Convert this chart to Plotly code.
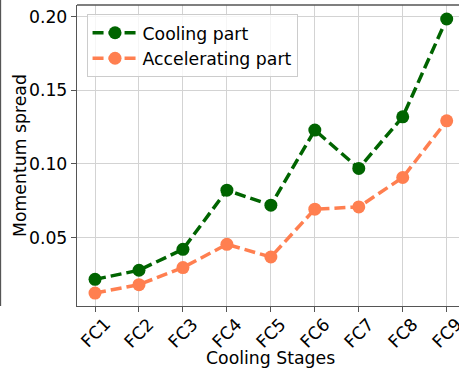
import plotly.graph_objects as go

stages = ["FC1", "FC2", "FC3", "FC4", "FC5", "FC6", "FC7", "FC8", "FC9"]
cooling = [0.0216, 0.0278, 0.042, 0.0822, 0.072, 0.123, 0.097, 0.132, 0.1985]
accel = [0.0123, 0.018, 0.0296, 0.0454, 0.0368, 0.0693, 0.0708, 0.0908, 0.1293]
yticks = [0.05, 0.10, 0.15, 0.20]

idx = list(range(len(stages)))
FS = 17.3
FONT = "DejaVu Sans"

fig = go.Figure()
fig.add_trace(go.Scatter(x=idx, y=cooling, name="Cooling part", mode="lines+markers",
                         line=dict(color="#006400", width=3.5, dash="11px,5px"),
                         marker=dict(color="#006400", size=13)))
fig.add_trace(go.Scatter(x=idx, y=accel, name="Accelerating part", mode="lines+markers",
                         line=dict(color="#FF7F50", width=3.5, dash="11px,5px"),
                         marker=dict(color="#FF7F50", size=13)))

axis_common = dict(showgrid=True, gridcolor="#d3d3d3", gridwidth=1,
                   showline=True, linecolor="#555555", linewidth=1.3,
                   ticks="outside", ticklen=5, tickcolor="#555555",
                   tickfont=dict(family=FONT, size=FS, color="black"),
                   zeroline=False)

fig.update_xaxes(tickmode="array", tickvals=idx, ticktext=[""] * len(stages),
                 range=[-0.41, 8.28], mirror=False, **axis_common)
fig.update_yaxes(tickmode="array", tickvals=yticks, ticktext=[f"{v:.2f}" for v in yticks],
                 range=[0.0035, 0.208], mirror=False, **axis_common)

plot_h = 371 - 5 - 65
for i, s in zip(idx, stages):
    fig.add_annotation(text=s, xref="x", yref="paper", x=i, y=(306 - 311) / plot_h,
                       xanchor="center", yanchor="top", textangle=-45, showarrow=False,
                       font=dict(family=FONT, size=FS, color="black"))

fig.add_annotation(text="Cooling Stages", xref="paper", yref="paper",
                   x=(270 - 77) / 382, y=(306 - 358) / plot_h, xanchor="center", yanchor="middle",
                   showarrow=False, font=dict(family=FONT, size=FS, color="black"))
fig.add_annotation(text="Momentum spread", xref="paper", yref="paper",
                   x=(19.5 - 77) / 382, y=0.5, xanchor="center", yanchor="middle", textangle=-90,
                   showarrow=False, font=dict(family=FONT, size=FS, color="black"))

fig.add_shape(type="line", xref="paper", yref="paper", x0=0, x1=1, y0=1, y1=1,
              line=dict(color="#555555", width=1.3))
fig.add_shape(type="line", xref="paper", yref="paper", x0=-76.5/382, x1=-76.5/382, y0=0, y1=1.02,
              line=dict(color="#555555", width=1.3))

fig.update_layout(
    width=459, height=371,
    margin=dict(l=77, r=0, t=5, b=65),
    plot_bgcolor="white", paper_bgcolor="white",
    font=dict(family=FONT, size=FS, color="black"),
    legend=dict(x=0.025, y=0.97, xanchor="left", yanchor="top",
                bgcolor="rgba(255,255,255,0.8)", bordercolor="#cccccc", borderwidth=1,
                font=dict(family=FONT, size=FS, color="black"),
                itemwidth=45, tracegroupgap=0),
    showlegend=True,
)

fig.write_html("out.html")
